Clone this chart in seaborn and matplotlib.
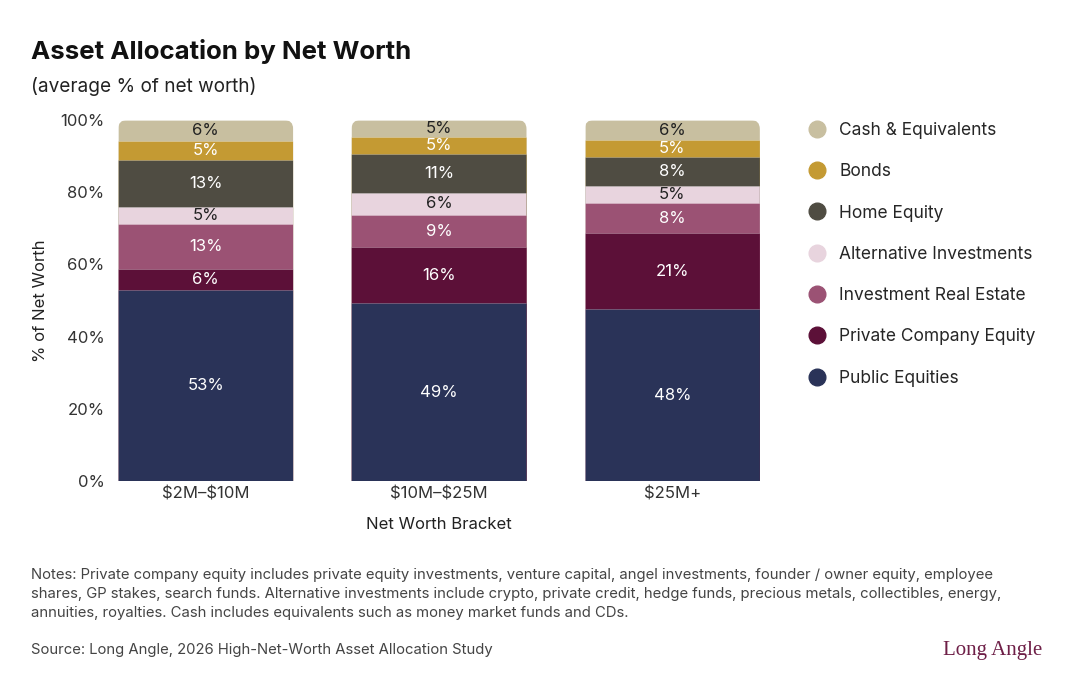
import numpy as np
import pandas as pd
import matplotlib
matplotlib.use("Agg")
import matplotlib.pyplot as plt
from matplotlib.lines import Line2D
from matplotlib.patches import FancyBboxPatch
import seaborn as sns

# data (bottom -> top of each bar)
BRACKETS = ["$2M–$10M", "$10M–$25M", "$25M+"]
CATEGORIES = ["Public Equities", "Private Company Equity", "Investment Real Estate",
              "Alternative Investments", "Home Equity", "Bonds", "Cash & Equivalents"]
public_equities = [52.9, 49.2, 47.6]
private_company_equity = [5.8, 15.6, 21.1]
investment_real_estate = [12.6, 8.9, 8.3]
alternative_investments = [4.7, 6.2, 4.7]
home_equity = [13.0, 10.8, 8.1]
bonds = [5.2, 4.6, 4.6]
cash_equivalents = [5.8, 4.7, 5.6]

COLORS = {
    "Public Equities": "#2a3358",
    "Private Company Equity": "#5c1038",
    "Investment Real Estate": "#9b5274",
    "Alternative Investments": "#e8d4de",
    "Home Equity": "#4f4c42",
    "Bonds": "#c49a33",
    "Cash & Equivalents": "#c8bfa0",
}
DARK_LABEL = {"Alternative Investments", "Cash & Equivalents"}

NOTES = ("Notes: Private company equity includes private equity investments, venture capital, angel investments, founder / owner equity, employee\n"
         "shares, GP stakes, search funds. Alternative investments include crypto, private credit, hedge funds, precious metals, collectibles, energy,\n"
         "annuities, royalties. Cash includes equivalents such as money market funds and CDs.")
SOURCE = "Source: Long Angle, 2026 High-Net-Worth Asset Allocation Study"

sns.set_theme(style="white")
plt.rcParams["font.family"] = ["Inter", "DejaVu Sans"]
plt.rcParams["text.parse_math"] = False  # dollar signs in tick labels

values = pd.DataFrame(
    [public_equities, private_company_equity, investment_real_estate,
     alternative_investments, home_equity, bonds, cash_equivalents],
    index=CATEGORIES, columns=BRACKETS)
cum = values.cumsum()

fig = plt.figure(figsize=(10.66, 6.88), dpi=100)
ax = fig.add_axes([110 / 1066, 1 - 481 / 688, 658 / 1066, 361 / 688])

# overlapping cumulative bars, tallest first
for cat in CATEGORIES[::-1]:
    d = pd.DataFrame({"bracket": BRACKETS, "cum": cum.loc[cat].values})
    sns.barplot(data=d, x="bracket", y="cum", color=COLORS[cat], width=0.75,
                saturation=1, linewidth=0.5, edgecolor=(1, 1, 1, 0.35), ax=ax)

ax.set_xlim(-0.41, 2.41)
ax.set_ylim(0, 100)

# round off the top corners of each bar
aspect = (100 / 361) / (2.82 / 658)
rad = 9 * 2.82 / 658
for p in ax.patches:
    clip = FancyBboxPatch((p.get_x(), -20), p.get_width(), 120,
                          boxstyle=f"round,pad=0,rounding_size={rad}",
                          mutation_aspect=aspect, transform=ax.transData)
    p.set_clip_path(clip)

# segment labels
for j, br in enumerate(BRACKETS):
    for cat in CATEGORIES:
        v = values.loc[cat, br]
        mid = cum.loc[cat, br] - v / 2
        ax.text(j, mid, f"{round(v)}%", ha="center", va="center", fontsize=12,
                color="#222222" if cat in DARK_LABEL else "white")

ax.set_yticks(range(0, 101, 20))
ax.set_yticklabels([f"{t}%" for t in range(0, 101, 20)])
ax.tick_params(axis="both", length=0, labelsize=12, colors="#333333")
ax.tick_params(axis="y", pad=4)
ax.tick_params(axis="x", pad=4)
ax.set_xlabel("Net Worth Bracket", fontsize=12, color="#222222", labelpad=11)
ax.set_ylabel("% of Net Worth", fontsize=12, color="#222222", labelpad=9)
sns.despine(ax=ax, left=True, bottom=True)

handles = [Line2D([], [], marker="o", linestyle="none", markersize=12,
                  markerfacecolor=COLORS[c], markeredgecolor=COLORS[c])
           for c in CATEGORIES[::-1]]
fig.legend(handles, CATEGORIES[::-1], loc="upper left",
           bbox_to_anchor=(793 / 1066, 1 - 115 / 688), frameon=False,
           fontsize=12.5, labelspacing=1.4, handletextpad=0.25, borderaxespad=0)

fig.text(31 / 1066, 1 - 52 / 688, "Asset Allocation by Net Worth", fontsize=18.6,
         fontweight="bold", color="#111111", va="center")
fig.text(31 / 1066, 1 - 86 / 688, "(average % of net worth)", fontsize=13.7,
         color="#222222", va="center")
fig.text(31 / 1066, 1 - 594 / 688, NOTES, fontsize=10.7, color="#444444",
         va="center", linespacing=1.45)
fig.text(31 / 1066, 1 - 650 / 688, SOURCE, fontsize=10.7, color="#444444", va="center")
fig.text(1042 / 1066, 1 - 650 / 688, "Long Angle", fontsize=15, color="#6e1f47",
         family=["Liberation Serif", "DejaVu Serif"], ha="right", va="center")

fig.savefig("out.png", dpi=100)
